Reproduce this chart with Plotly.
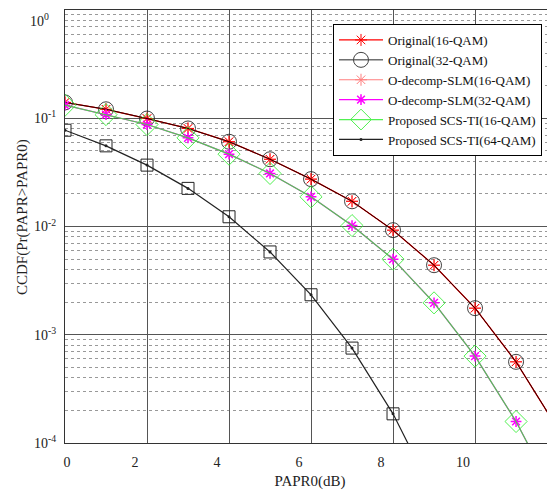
import plotly.graph_objects as go

papr0 = list(range(13))
orig_16qam = [0.140, 0.121, 0.0994, 0.0805, 0.0607, 0.0418, 0.0274, 0.0171, 0.00925, 0.00439, 0.00176, 5.62e-4, 1.39e-4]
orig_32qam = [0.140, 0.121, 0.0994, 0.0805, 0.0607, 0.0418, 0.0274, 0.0171, 0.00925, 0.00439, 0.00176, 5.62e-4, 1.39e-4]
odecomp_16qam = [0.140, 0.121, 0.0994, 0.0805, 0.0607, 0.0418, 0.0274, 0.0171, 0.00925, 0.00439, 0.00176, 5.62e-4, 1.39e-4]
odecomp_32qam = [0.132, 0.108, 0.0875, 0.0659, 0.0466, 0.0309, 0.0188, 0.0102, 0.00499, 0.00197, 6.35e-4, 1.58e-4, 3.0e-5]
scs_16qam = [0.132, 0.108, 0.0875, 0.0659, 0.0466, 0.0309, 0.0188, 0.0102, 0.00499, 0.00197, 6.35e-4, 1.58e-4, 3.0e-5]
papr0_64 = list(range(10))
scs_64qam = [0.0775, 0.0556, 0.0369, 0.0225, 0.0123, 0.00582, 0.00234, 7.53e-4, 1.86e-4, 3.3e-5]

xtick_vals = [0, 2, 4, 6, 8, 10, 12]
xtick_text = ["\u00a0" * 8 + "0", "2", "4", "6", "8", "10", "12"]
ytick_vals = [1e-4, 1e-3, 1e-2, 1e-1, 1]
ytick_text = ["10<sup>-4</sup>", "10<sup>-3</sup>", "10<sup>-2</sup>", "10<sup>-1</sup>", ""]

FONT = "Liberation Serif, Times New Roman, serif"

# page body has an 8px margin: the figure is sized/placed to compensate
W, H = 547, 482
ML, MT, MB = 57, 2, 47
PW = W - ML
PH = H - MT - MB

fig = go.Figure()

fig.add_trace(go.Scatter(x=papr0_64, y=scs_64qam, mode="markers", showlegend=False,
                         marker=dict(symbol="square-open", size=12, color="#222",
                                     line=dict(width=1, color="#222")), hoverinfo="skip"))

fig.add_trace(go.Scatter(x=papr0, y=orig_16qam, mode="lines+markers", name="Original(16-QAM)", legendrank=1,
                         line=dict(color="red", width=1.3),
                         marker=dict(symbol="asterisk-open", size=10, color="red", line=dict(width=1, color="red"))))
fig.add_trace(go.Scatter(x=papr0, y=odecomp_16qam, mode="lines+markers", name="O-decomp-SLM(16-QAM)", legendrank=3,
                         line=dict(color="red", width=1), opacity=0.5,
                         marker=dict(symbol="asterisk-open", size=10, color="red", line=dict(width=1, color="red"))))
fig.add_trace(go.Scatter(x=papr0, y=orig_32qam, mode="lines+markers", name="Original(32-QAM)", legendrank=2,
                         line=dict(color="black", width=1), opacity=0.85,
                         marker=dict(symbol="circle-open", size=15, color="#222", line=dict(width=1, color="#222"))))
fig.add_trace(go.Scatter(x=papr0, y=odecomp_32qam, mode="lines+markers", name="O-decomp-SLM(32-QAM)", legendrank=4,
                         line=dict(color="magenta", width=1.2),
                         marker=dict(symbol="asterisk-open", size=9, color="magenta", line=dict(width=1.5, color="magenta"))))
fig.add_trace(go.Scatter(x=papr0, y=scs_16qam, mode="lines+markers", name="Proposed SCS-TI(16-QAM)", legendrank=5,
                         line=dict(color="#33ee33", width=1.2), opacity=0.85,
                         marker=dict(symbol="diamond-open", size=17, color="#33ee33", line=dict(width=1, color="#33ee33"))))
fig.add_trace(go.Scatter(x=papr0_64, y=scs_64qam, mode="lines+markers", name="Proposed SCS-TI(64-QAM)", legendrank=6,
                         line=dict(color="#222", width=1.2),
                         marker=dict(symbol="circle", size=3, color="#222")))

fig.update_layout(
    width=W, height=H,
    margin=dict(l=ML, r=0, t=MT, b=MB, autoexpand=False),
    paper_bgcolor="white", plot_bgcolor="white",
    font=dict(family=FONT, size=14, color="#222"),
    showlegend=True,
    legend=dict(x=(333 - 65) / PW, y=(443 - 24) / PH, xanchor="left", yanchor="top",
                bgcolor="white", bordercolor="black", borderwidth=1,
                font=dict(family=FONT, size=13, color="#111"),
                tracegroupgap=0, itemwidth=44),
)

fig.update_xaxes(
    range=[0, 11.95], tickvals=xtick_vals, ticktext=xtick_text,
    showgrid=True, gridcolor="#555", gridwidth=1, automargin=False,
    showline=True, linecolor="#333", linewidth=1, mirror=True,
    zeroline=False, ticks="", ticklabelshift=-12, ticklabelstandoff=6,
    title=dict(text="PAPR0(dB)", font=dict(size=15, family=FONT), standoff=6),
)
fig.update_yaxes(
    type="log", range=[-4, 0], tickvals=ytick_vals, ticktext=ytick_text,
    showgrid=True, gridcolor="#555", gridwidth=1, automargin=False,
    showline=True, linecolor="#333", linewidth=1, mirror=False,
    zeroline=False, ticks="", ticklabelstandoff=5,
    minor=dict(dtick="D1", showgrid=True, gridcolor="#999", griddash="dot", gridwidth=1, ticks=""),
)

# top decade label sits just inside the frame, as in the reference
fig.add_annotation(text="10<sup>0</sup>", xref="paper", yref="paper",
                   x=(51 - 65) / PW, y=(443 - 20) / PH, xanchor="right", yanchor="middle",
                   showarrow=False, font=dict(family=FONT, size=14, color="#222"))

fig.add_annotation(text="CCDF(Pr(PAPR>PAPR0)", xref="paper", yref="paper",
                   x=(22 - 65) / PW, y=(443 - 217) / PH, xanchor="center", yanchor="middle", textangle=-90,
                   showarrow=False, font=dict(family=FONT, size=15, color="#222"))

fig.write_html("out.html")
